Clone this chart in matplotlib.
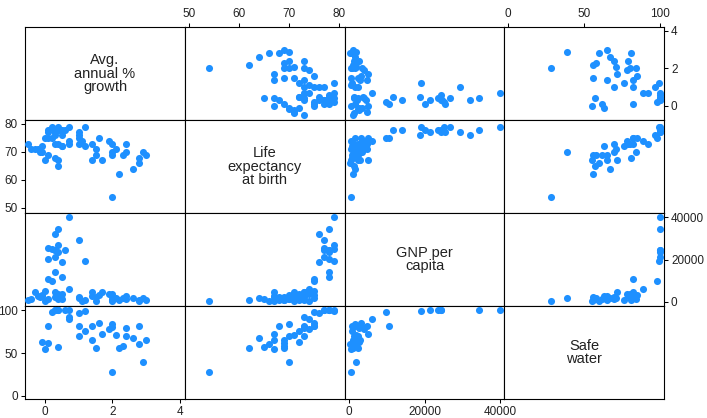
import numpy as np
import matplotlib.pyplot as plt

plt.rcParams['font.family'] = ['Liberation Sans', 'DejaVu Sans']

nan = np.nan

# one entry per country
popgrowth = [0.4, 0.3, 0.3, 0.3, 0.4, 0.1, 0.5, 0.5, 0.1, 0.6,
             0.4, 0.1, 0.2, 0.3, 0.2, 0.7, 0.3, 1.2, 1.0, 1.0,
             0.7, 0.7, 1.0, 1.0, 1.2, 1.4, 1.4, 1.5, 1.6, 1.7,
             1.9, 2.0, 2.0, 2.1, 2.0, 2.2, 2.3, 2.4, 2.4, 2.6,
             2.8, 2.8, 2.9, 3.0, -0.1, 0.1, 0.0, 0.4, -0.5, -0.4,
             -0.3, -0.2, -0.15, -0.1, 0.0, 0.3, 0.4, 0.5, 0.5, 0.3,
             0.4, 1.1, 1.5, 2.0]
lexp = [79, 78, 76, 77, 78, 77, 78, 76, 78, 78,
        78, 75, 75, 78, 79, 79, 77, 79, 77, 76,
        74, 73, 75, 73, 72, 73, 67, 69, 75, 67,
        74, 73, 70, 71, 54, 62, 69, 73, 70, 64,
        68, 66, 70, 69, 72, 69, 67, 65, 73, 71,
        71, 71, 70, 70, 75, 73, 73, 72, 72, 68,
        67, 74, 71, 69]
gnppc = [26830, 24650, 32030, 24280, 23480, 25350, 11740, 18710, 20170, 24320,
         34310, 10670, 9780, 14080, 25040, 39980, 21410, 19170, 29240, nan,
         6070, nan, 1680, 2250, 810, 4740, 2900, 2460, 3080, 4900,
         3840, 3530, 1520, 1770, 410, 1010, 1850, 2740, 1370, 1640,
         730, 370, 1760, 1100, 2620, 1520, 410, 1310, 930, 1220,
         4650, 2620, 2470, 3480, 5040, 4620, 3910, 3590, 1290, 2180,
         2270, 460, 480, 870]
safewater = [nan, nan, nan, 100, 100, nan, nan, nan, nan, 100,
             100, 82, 98, nan, nan, 100, 100, 99, nan, 97,
             89, 92, 82, 70, 76, 82, 65, 56, 85, 72,
             78, 80, 84, 71, 28, 56, 58, 79, 70, 67,
             81, 60, 39, 65, 63, 62, 55, 57, nan, nan,
             nan, nan, nan, nan, nan, nan, nan, nan, nan, nan,
             nan, nan, nan, nan]

names = ['Avg.\nannual %\ngrowth', 'Life\nexpectancy\nat birth',
         'GNP per\ncapita', 'Safe\nwater']
ticks = [[0, 2, 4], [50, 60, 70, 80], [0, 20000, 40000], [0, 50, 100]]

data = [np.array(popgrowth), np.array(lexp, dtype=float),
        np.array(gnppc), np.array(safewater)]
xlims = [(-0.59, 4.15), (49.2, 81.2), (-1060, 41000), (-2.6, 102.6)]
ylims = [(-0.75, 4.21), (48.2, 81.4), (-1900, 41900), (-3.5, 104.7)]

W, H = 707, 418
xedges = [25, 185, 345, 504, 664]
yedges = [27, 120, 213, 306, 399]
blue = '#1E90FF'

fig = plt.figure(figsize=(W / 100, H / 100), dpi=100)

for i in range(4):
    for j in range(4):
        left = xedges[j] / W
        bottom = 1 - yedges[i + 1] / H
        w = (xedges[j + 1] - xedges[j]) / W
        h = (yedges[i + 1] - yedges[i]) / H
        ax = fig.add_axes([left, bottom, w, h])
        ax.set_xlim(xlims[j])
        ax.set_ylim(ylims[i])
        for s in ax.spines.values():
            s.set_linewidth(0.8)
            s.set_color('black')
        ax.tick_params(direction='out', length=3, width=0.75, labelsize=8.5,
                       pad=2, colors='black', labelcolor='#222222',
                       top=False, bottom=False, left=False, right=False,
                       labeltop=False, labelbottom=False,
                       labelleft=False, labelright=False)
        ax.set_xticks(ticks[j])
        ax.set_yticks(ticks[i])

        if i == j:
            ax.text(0.5, 0.5, names[i], transform=ax.transAxes,
                    ha='center', va='center', fontsize=10.5,
                    linespacing=0.95, color='#222222')
        else:
            x = data[j]
            y = data[i]
            ok = ~np.isnan(x) & ~np.isnan(y)
            ax.scatter(x[ok], y[ok], s=26, color=blue, linewidths=0,
                       zorder=3, clip_on=False)

        if i == 0 and j % 2 == 1:
            ax.tick_params(top=True, labeltop=True)
        if i == 3 and j % 2 == 0:
            ax.tick_params(bottom=True, labelbottom=True)
        if j == 0 and i % 2 == 1:
            ax.tick_params(left=True, labelleft=True)
        if j == 3 and i % 2 == 0:
            ax.tick_params(right=True, labelright=True)

fig.savefig('out.png', dpi=100, facecolor='white')
